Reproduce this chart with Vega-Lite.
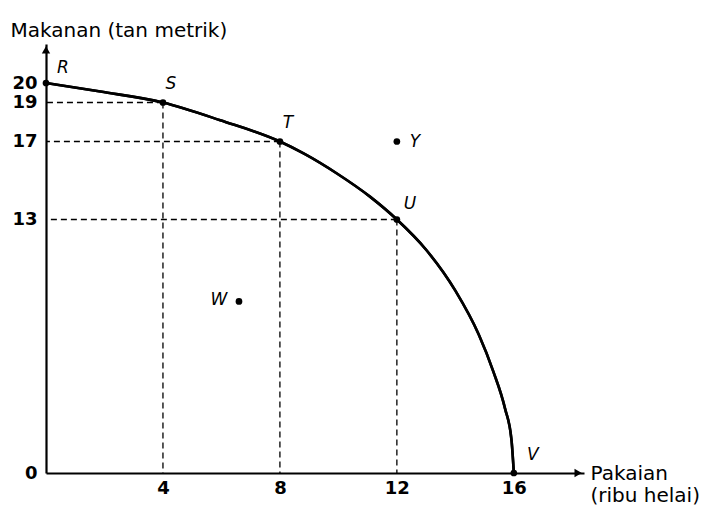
{
  "$schema": "https://vega.github.io/schema/vega-lite/v6.json",
  "width": 538,
  "height": 429,
  "autosize": {"type": "none"},
  "padding": {"left": 46, "top": 44, "right": 119, "bottom": 40},
  "background": "white",
  "config": {
    "view": {"stroke": null},
    "font": "DejaVu Sans",
    "axis": {"grid": false, "ticks": false, "domainColor": "black", "domainWidth": 2.2, "labelColor": "black", "labelFont": "DejaVu Sans", "labelFontSize": 18, "labelFontWeight": "bold", "titleFont": "DejaVu Sans", "titleFontSize": 20, "titleFontWeight": "normal", "titleColor": "black"}
  },
  "datasets": {
    "curve": [
      {"x": 0, "y": 20}, {"x": 1.86, "y": 19.56}, {"x": 4, "y": 19}, {"x": 5.96, "y": 18.09},
      {"x": 8, "y": 17}, {"x": 8.81, "y": 16.39}, {"x": 9.95, "y": 15.36}, {"x": 11.09, "y": 14.16},
      {"x": 12, "y": 13}, {"x": 13, "y": 11.45}, {"x": 14, "y": 9.35}, {"x": 14.8, "y": 7.1},
      {"x": 15.3, "y": 5.2}, {"x": 15.7, "y": 3.3}, {"x": 15.92, "y": 1.7}, {"x": 16, "y": 0}
    ],
    "points": [
      {"label": "R", "x": 0, "y": 20},
      {"label": "S", "x": 4, "y": 19},
      {"label": "T", "x": 8, "y": 17},
      {"label": "U", "x": 12, "y": 13},
      {"label": "V", "x": 16, "y": 0},
      {"label": "W", "x": 6.6, "y": 8.8},
      {"label": "Y", "x": 12, "y": 17}
    ],
    "guides": [
      {"x": 4, "y": 19}, {"x": 8, "y": 17}, {"x": 12, "y": 13}
    ]
  },
  "layer": [
    {
      "data": {"name": "curve"},
      "mark": {"type": "line", "interpolate": "monotone", "color": "black", "strokeWidth": 2.6},
      "encoding": {
        "x": {"field": "x", "type": "quantitative", "scale": {"domain": [0, 18.4], "nice": false},
          "axis": {"values": [4, 8, 12, 16], "labelPadding": 6, "title": ["Pakaian", "(ribu helai)"], "titleX": 544, "titleY": 6, "titleAlign": "left", "titleBaseline": "alphabetic", "titleLineHeight": 22}},
        "y": {"field": "y", "type": "quantitative", "scale": {"domain": [0, 22], "nice": false},
          "axis": {"values": [0, 13, 17, 19, 20], "labelPadding": 9, "title": "Makanan (tan metrik)", "titleAngle": 0, "titleX": -36, "titleY": -8, "titleAlign": "left", "titleBaseline": "alphabetic"}}
      }
    },
    {
      "data": {"name": "guides"},
      "mark": {"type": "rule", "strokeDash": [6, 4], "strokeWidth": 1.3, "color": "black"},
      "encoding": {
        "x": {"field": "x", "type": "quantitative"},
        "x2": {"datum": 0},
        "y": {"field": "y", "type": "quantitative"}
      }
    },
    {
      "data": {"name": "guides"},
      "mark": {"type": "rule", "strokeDash": [6, 4], "strokeWidth": 1.3, "color": "black"},
      "encoding": {
        "x": {"field": "x", "type": "quantitative"},
        "y": {"field": "y", "type": "quantitative"},
        "y2": {"datum": 0}
      }
    },
    {
      "data": {"name": "curve"},
      "mark": {"type": "line", "interpolate": "monotone", "color": "black", "strokeWidth": 2.6},
      "encoding": {
        "x": {"field": "x", "type": "quantitative"},
        "y": {"field": "y", "type": "quantitative"}
      }
    },
    {
      "data": {"name": "points"},
      "mark": {"type": "point", "filled": true, "color": "black", "opacity": 1, "size": 45},
      "encoding": {
        "x": {"field": "x", "type": "quantitative"},
        "y": {"field": "y", "type": "quantitative"}
      }
    },
    {
      "data": {"values": [{"x": 18.2, "y": 0, "s": "triangle-right"}, {"x": 0, "y": 21.7, "s": "triangle-up"}]},
      "mark": {"type": "point", "filled": true, "color": "black", "opacity": 1, "size": 70},
      "encoding": {
        "x": {"field": "x", "type": "quantitative"},
        "y": {"field": "y", "type": "quantitative"},
        "shape": {"field": "s", "type": "nominal", "scale": {"domain": ["triangle-right", "triangle-up"], "range": ["triangle-right", "triangle-up"]}, "legend": null}
      }
    },
    {
      "data": {"name": "points"},
      "transform": [{"filter": "datum.label === 'R'"}],
      "mark": {"type": "text", "fontStyle": "italic", "fontSize": 17, "dx": 17, "dy": -15, "color": "black"},
      "encoding": {"x": {"field": "x", "type": "quantitative"}, "y": {"field": "y", "type": "quantitative"}, "text": {"field": "label"}}
    },
    {
      "data": {"name": "points"},
      "transform": [{"filter": "datum.label === 'S' || datum.label === 'T'"}],
      "mark": {"type": "text", "fontStyle": "italic", "fontSize": 17, "dx": 8, "dy": -19, "color": "black"},
      "encoding": {"x": {"field": "x", "type": "quantitative"}, "y": {"field": "y", "type": "quantitative"}, "text": {"field": "label"}}
    },
    {
      "data": {"name": "points"},
      "transform": [{"filter": "datum.label === 'U'"}],
      "mark": {"type": "text", "fontStyle": "italic", "fontSize": 17, "dx": 13, "dy": -16, "color": "black"},
      "encoding": {"x": {"field": "x", "type": "quantitative"}, "y": {"field": "y", "type": "quantitative"}, "text": {"field": "label"}}
    },
    {
      "data": {"name": "points"},
      "transform": [{"filter": "datum.label === 'V'"}],
      "mark": {"type": "text", "fontStyle": "italic", "fontSize": 17, "dx": 19, "dy": -18, "color": "black"},
      "encoding": {"x": {"field": "x", "type": "quantitative"}, "y": {"field": "y", "type": "quantitative"}, "text": {"field": "label"}}
    },
    {
      "data": {"name": "points"},
      "transform": [{"filter": "datum.label === 'W'"}],
      "mark": {"type": "text", "fontStyle": "italic", "fontSize": 17, "dx": -20, "dy": -1, "color": "black"},
      "encoding": {"x": {"field": "x", "type": "quantitative"}, "y": {"field": "y", "type": "quantitative"}, "text": {"field": "label"}}
    },
    {
      "data": {"name": "points"},
      "transform": [{"filter": "datum.label === 'Y'"}],
      "mark": {"type": "text", "fontStyle": "italic", "fontSize": 17, "dx": 18, "dy": 0, "color": "black"},
      "encoding": {"x": {"field": "x", "type": "quantitative"}, "y": {"field": "y", "type": "quantitative"}, "text": {"field": "label"}}
    }
  ]
}
